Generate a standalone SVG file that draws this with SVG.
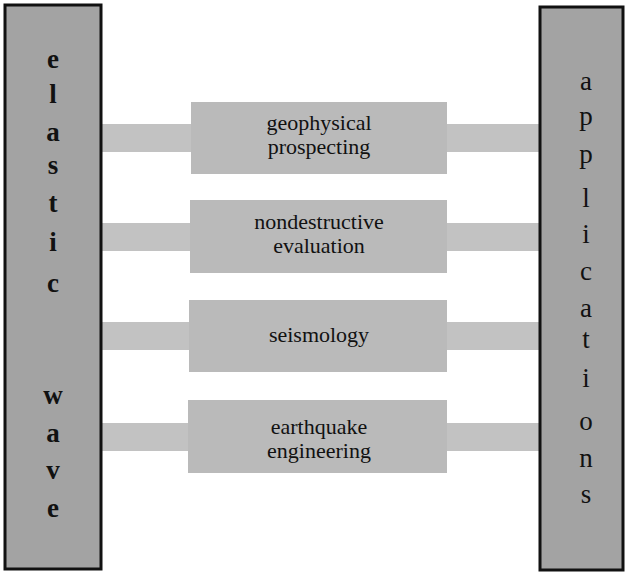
<svg xmlns="http://www.w3.org/2000/svg" width="626" height="573" viewBox="0 0 626 573">
<style>
.bar{fill:#a3a3a3;stroke:#111;stroke-width:3}
.box{fill:#bababa;stroke:none}
.conn{fill:#c2c2c2;stroke:none}
.bl{font-family:"Liberation Serif","Times New Roman",serif;font-size:27px;fill:#111;text-anchor:middle}
.bt{font-family:"Liberation Serif","Times New Roman",serif;font-size:22px;fill:#111;text-anchor:middle}
</style>
<g id="connectors">
<rect class="conn" x="101" y="124" width="92" height="28"/>
<rect class="conn" x="446" y="124" width="94" height="28"/>
<rect class="conn" x="101" y="223" width="92" height="28"/>
<rect class="conn" x="446" y="223" width="94" height="28"/>
<rect class="conn" x="101" y="322" width="92" height="28"/>
<rect class="conn" x="446" y="322" width="94" height="28"/>
<rect class="conn" x="101" y="423" width="92" height="28"/>
<rect class="conn" x="446" y="423" width="94" height="28"/>
</g>
<g id="elastic-wave">
<rect class="bar" x="5" y="5" width="96" height="564"/>
<text class="bl" font-weight="bold" x="53" y="68">e</text>
<text class="bl" font-weight="bold" x="53" y="103">l</text>
<text class="bl" font-weight="bold" x="53" y="141">a</text>
<text class="bl" font-weight="bold" x="53" y="174">s</text>
<text class="bl" font-weight="bold" x="53" y="212">t</text>
<text class="bl" font-weight="bold" x="53" y="251">i</text>
<text class="bl" font-weight="bold" x="53" y="292">c</text>
<text class="bl" font-weight="bold" x="53" y="404">w</text>
<text class="bl" font-weight="bold" x="53" y="442">a</text>
<text class="bl" font-weight="bold" x="53" y="479">v</text>
<text class="bl" font-weight="bold" x="53" y="517">e</text>
</g>
<g id="applications">
<rect class="bar" x="540" y="7" width="83" height="563"/>
<text class="bl" x="586" y="90">a</text>
<text class="bl" x="586" y="125">p</text>
<text class="bl" x="586" y="163">p</text>
<text class="bl" x="586" y="207">l</text>
<text class="bl" x="586" y="243">i</text>
<text class="bl" x="586" y="280">c</text>
<text class="bl" x="586" y="317">a</text>
<text class="bl" x="586" y="348">t</text>
<text class="bl" x="586" y="387">i</text>
<text class="bl" x="586" y="430">o</text>
<text class="bl" x="586" y="467">n</text>
<text class="bl" x="586" y="503">s</text>
</g>
<g id="geophysical-prospecting">
<rect class="box" x="191" y="102" width="256" height="72"/>
<text class="bt" x="319" y="130">geophysical</text>
<text class="bt" x="319" y="154">prospecting</text>
</g>
<g id="nondestructive-evaluation">
<rect class="box" x="190" y="200" width="257" height="73"/>
<text class="bt" x="319" y="229">nondestructive</text>
<text class="bt" x="319" y="253">evaluation</text>
</g>
<g id="seismology">
<rect class="box" x="189" y="300" width="258" height="72"/>
<text class="bt" x="319" y="342">seismology</text>
</g>
<g id="earthquake-engineering">
<rect class="box" x="188" y="400" width="259" height="73"/>
<text class="bt" x="319" y="434">earthquake</text>
<text class="bt" x="319" y="458">engineering</text>
</g>
</svg>
